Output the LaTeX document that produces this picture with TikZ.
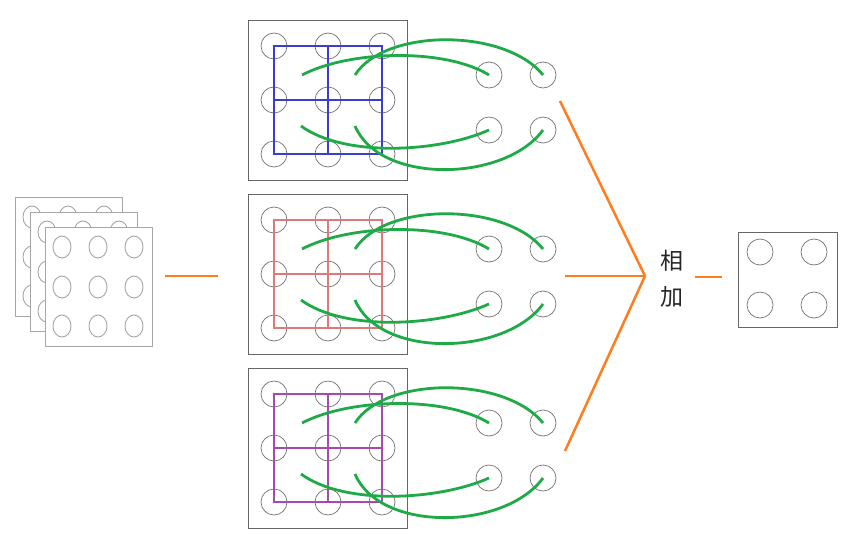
\documentclass[tikz,border=0pt]{standalone}
\usepackage{fontspec}
\usetikzlibrary{shapes.geometric}
\newfontfamily\cjk{Noto Sans CJK SC}
\begin{document}
\begin{tikzpicture}[x=1pt,y=-1pt,
  frame/.style={draw=black!60, line width=0.9pt},
  ring/.style={draw=black!55, circle, minimum size=26pt, inner sep=0pt, line width=0.7pt},
  sring/.style={draw=black!35, ellipse, minimum width=18pt, minimum height=22pt, inner sep=0pt, line width=0.9pt},
  sheet/.style={draw=black!35, fill=white, line width=0.9pt},
  gline/.style={draw={rgb,255:red,30;green,170;blue,70}, line width=2.8pt},
  oline/.style={draw={rgb,255:red,255;green,125;blue,30}, line width=2.5pt},
  grid/.style={line width=1.5pt},
  lab/.style={font=\cjk\fontsize{23pt}{26pt}\selectfont, inner sep=0pt, text=black!85}
]
\useasboundingbox (0,0) rectangle (861,551);
\definecolor{gblue}{RGB}{60,60,210}
\definecolor{gred}{RGB}{225,120,120}
\definecolor{gpurple}{RGB}{165,75,175}

% stacked input sheets
\foreach \s/\ox/\oy in {1/15/197, 2/30/212, 3/45/227}{
  \draw[sheet] (\ox,\oy) rectangle ++(107,119);
  \foreach \c/\cx in {1/17,2/53,3/89}{
    \foreach \r/\ry in {1/20,2/60,3/99}{
      \node[sring] (s\s-\r\c) at (\ox+\cx,\oy+\ry) {};
    }
  }
}
\coordinate (inA) at (165,276);
\coordinate (inB) at (218,276);
\draw[oline] (inA) -- (inB);

% three panels
\foreach \i/\dy/\col in {1/0/gblue, 2/174/gred, 3/348/gpurple}{
  \begin{scope}[yshift=-\dy pt]
    \draw[frame] (248,20) rectangle (407,180);
    \foreach \c/\cx in {1/274,2/328,3/382}{
      \foreach \r/\ry in {1/46,2/100,3/154}{
        \node[ring] (p\i-\r\c) at (\cx,\ry) {};
      }
    }
    \draw[grid, draw=\col] (274,46) rectangle (382,154);
    \draw[grid, draw=\col] (328,46) -- (328,154);
    \draw[grid, draw=\col] (274,100) -- (382,100);
    \node[ring] (q\i-11) at (489,75) {};
    \node[ring] (q\i-12) at (543,75) {};
    \node[ring] (q\i-21) at (489,130) {};
    \node[ring] (q\i-22) at (543,130) {};
    \coordinate (k\i-a) at (302,75);
    \coordinate (k\i-b) at (355,75);
    \coordinate (k\i-c) at (301,126);
    \coordinate (k\i-d) at (355,126);
    \draw[gline] (k\i-a) .. controls (350,50) and (445,48) .. (q\i-11.center);
    \draw[gline] (k\i-b) .. controls (385,28) and (505,28) .. (q\i-12.center);
    \draw[gline] (k\i-c) .. controls (345,158) and (440,152) .. (q\i-21.center);
    \draw[gline] (k\i-d) .. controls (380,185) and (505,182) .. (q\i-22.center);
  \end{scope}
}

% summation
\coordinate (sum) at (645,276);
\coordinate (o1) at (560,101);
\coordinate (o2) at (565,276);
\coordinate (o3) at (565,451);
\draw[oline] (o1) -- (sum);
\draw[oline] (o2) -- (sum);
\draw[oline] (o3) -- (sum);
\node[lab] (t1) at (672,261) {相};
\node[lab] (t2) at (672,297) {加};
\coordinate (oa) at (695,277);
\coordinate (ob) at (722,277);
\draw[oline] (oa) -- (ob);

% output
\draw[frame] (738,232) rectangle (837,327);
\node[ring] (r11) at (760,252) {};
\node[ring] (r12) at (814,252) {};
\node[ring] (r21) at (760,305) {};
\node[ring] (r22) at (814,305) {};
\end{tikzpicture}
\end{document}
